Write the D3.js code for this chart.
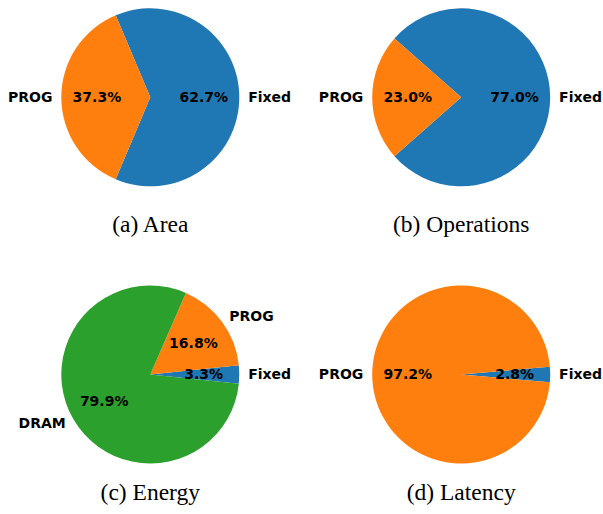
<!DOCTYPE html>
<html>
<head>
<meta charset="utf-8">
<script src="https://cdn.jsdelivr.net/npm/d3@7"></script>
<style>
  html, body { margin: 0; padding: 0; background: #fff; }
  svg { display: block; }
</style>
</head>
<body>
<svg id="chart" width="603" height="514"></svg>
<script>
// ---- data ----
const panelTitles = ["(a) Area", "(b) Operations", "(c) Energy", "(d) Latency"];
const areaLabels = ["Fixed", "PROG"];
const areaValues = [62.7, 37.3];
const opsLabels = ["Fixed", "PROG"];
const opsValues = [77.0, 23.0];
const energyLabels = ["Fixed", "PROG", "DRAM"];
const energyValues = [3.3, 16.8, 79.9];
const latencyLabels = ["Fixed", "PROG"];
const latencyValues = [2.8, 97.2];
const colorByLabel = { "Fixed": "#1f77b4", "PROG": "#ff7f0e", "DRAM": "#2ca02c" };

const panels = [
  { title: panelTitles[0], labels: areaLabels, values: areaValues },
  { title: panelTitles[1], labels: opsLabels, values: opsValues },
  { title: panelTitles[2], labels: energyLabels, values: energyValues },
  { title: panelTitles[3], labels: latencyLabels, values: latencyValues }
];

// ---- layout ----
const centersX = [150.3, 461.2];
const centersY = [97.3, 374.5];
const R = 89;
const captionY = [231.7, 499.5];

const svg = d3.select("#chart");

panels.forEach((p, i) => {
  const cx = centersX[i % 2], cy = centersY[Math.floor(i / 2)];
  const total = d3.sum(p.values);
  // matplotlib-like: counterclockwise from angle startDeg (math coords), first wedge centered on east
  const startDeg = -p.values[0] / total * 180;
  // d3.pie: angle 0 at 12 o'clock, clockwise. math angle a -> d3 angle = 90 - a (deg)
  // counterclockwise in math = decreasing d3 angle.
  const startD3 = (90 - startDeg) * Math.PI / 180;
  const pie = d3.pie().sort(null).value(d => d.v)
    .startAngle(startD3).endAngle(startD3 - 2 * Math.PI);
  const data = pie(p.labels.map((l, k) => ({ l, v: p.values[k] })));
  const arc = d3.arc().innerRadius(0).outerRadius(R);

  const g = svg.append("g").attr("transform", `translate(${cx},${cy})`);
  g.selectAll("path").data(data).join("path")
    .attr("d", arc)
    .attr("fill", d => colorByLabel[d.data.l]);

  data.forEach(d => {
    const mid = (d.startAngle + d.endAngle) / 2; // d3 angle
    const sx = Math.sin(mid), sy = -Math.cos(mid);
    // outer label
    const lx = 1.1 * R * sx, ly = 1.1 * R * sy;
    g.append("text")
      .attr("x", lx).attr("y", ly).attr("dy", "0.33em")
      .attr("text-anchor", lx < 0 ? "end" : "start")
      .attr("font-family", "DejaVu Sans").attr("font-weight", "bold")
      .attr("font-size", 14).attr("fill", "#000")
      .text(d.data.l);
    // percentage
    const px = 0.6 * R * sx, py = 0.6 * R * sy;
    g.append("text")
      .attr("x", px).attr("y", py).attr("dy", "0.33em")
      .attr("text-anchor", "middle")
      .attr("font-family", "DejaVu Sans").attr("font-weight", "bold")
      .attr("font-size", 14).attr("fill", "#000")
      .text((d.data.v / total * 100).toFixed(1) + "%");
  });

  svg.append("text")
    .attr("x", cx).attr("y", captionY[Math.floor(i / 2)])
    .attr("text-anchor", "middle")
    .attr("font-family", "Liberation Serif, Times New Roman, serif")
    .attr("font-size", 23.5).attr("fill", "#000")
    .text(p.title);
});
</script>
</body>
</html>
